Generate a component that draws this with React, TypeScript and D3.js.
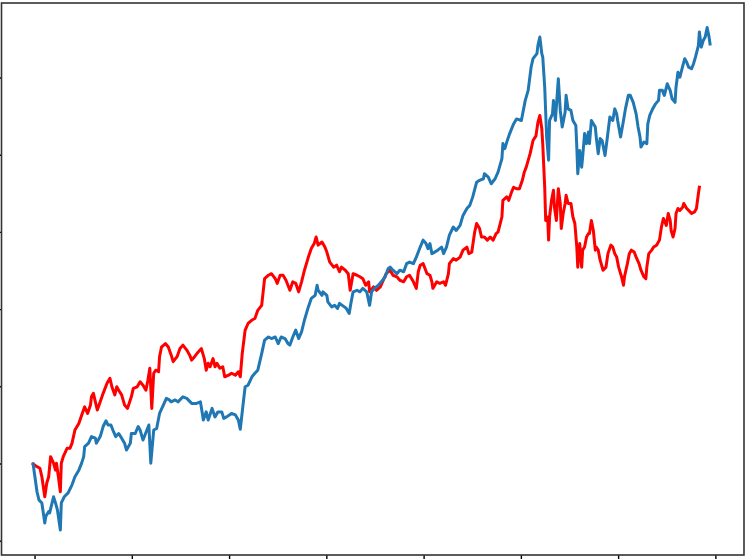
import React from "react";
import * as d3 from "d3";

// x: trading-day index, y: cumulative growth of 1 unit
const xTicks = [0, 100, 200, 300, 400, 500, 600, 700];
const yTicks = [0.8, 1.0, 1.2, 1.4, 1.6, 1.8, 2.0];

const blueSeries: [number, number][] = [
  [-2, 1.0], [2, 0.928], [4, 0.907], [7, 0.899], [10, 0.847], [11, 0.864], [14, 0.877], [15, 0.873],
  [19, 0.915], [21, 0.899], [23, 0.881], [26, 0.829], [27, 0.899], [30, 0.915], [34, 0.925], [38, 0.946],
  [41, 0.967], [45, 0.984], [48, 1.003], [50, 1.019], [51, 1.045], [55, 1.054], [58, 1.071], [62, 1.067],
  [63, 1.054], [67, 1.071], [70, 1.097], [73, 1.112], [75, 1.101], [78, 1.101], [80, 1.088], [83, 1.071],
  [86, 1.079], [88, 1.071], [92, 1.054], [94, 1.036], [98, 1.054], [99, 1.079], [103, 1.079], [106, 1.097],
  [108, 1.088], [111, 1.062], [115, 1.088], [117, 1.101], [119, 1.002], [122, 1.088], [125, 1.092], [128, 1.131],
  [132, 1.153], [135, 1.17], [138, 1.166], [140, 1.161], [144, 1.166], [147, 1.161], [152, 1.174], [156, 1.17],
  [161, 1.157], [166, 1.157], [170, 1.161], [172, 1.131], [173, 1.114], [176, 1.135], [178, 1.114], [182, 1.144],
  [185, 1.122], [188, 1.135], [192, 1.135], [194, 1.118], [197, 1.122], [202, 1.131], [206, 1.127], [209, 1.114],
  [211, 1.09], [214, 1.157], [216, 1.2], [219, 1.204], [223, 1.226], [226, 1.235], [229, 1.243], [233, 1.286],
  [236, 1.321], [240, 1.329], [243, 1.325], [247, 1.329], [250, 1.312], [253, 1.329], [257, 1.325], [260, 1.312],
  [262, 1.308], [265, 1.329], [268, 1.347], [271, 1.325], [274, 1.342], [277, 1.373], [281, 1.407], [284, 1.429],
  [288, 1.437], [290, 1.463], [291, 1.45], [295, 1.437], [296, 1.446], [300, 1.437], [301, 1.42], [305, 1.407],
  [308, 1.411], [311, 1.403], [313, 1.416], [318, 1.407], [320, 1.403], [323, 1.39], [325, 1.42], [327, 1.446],
  [331, 1.45], [334, 1.446], [337, 1.455], [341, 1.446], [344, 1.411], [346, 1.446], [349, 1.455], [353, 1.463],
  [356, 1.472], [360, 1.485], [363, 1.506], [365, 1.51], [368, 1.502], [372, 1.493], [375, 1.502], [379, 1.498],
  [382, 1.519], [385, 1.523], [389, 1.519], [392, 1.536], [396, 1.562], [399, 1.58], [402, 1.571], [404, 1.558],
  [406, 1.571], [408, 1.545], [411, 1.549], [414, 1.554], [418, 1.562], [420, 1.545], [423, 1.562], [426, 1.593],
  [430, 1.614], [433, 1.605], [437, 1.618], [440, 1.644], [444, 1.662], [447, 1.67], [450, 1.692], [454, 1.73],
  [457, 1.735], [461, 1.739], [462, 1.752], [466, 1.743], [469, 1.726], [473, 1.739], [476, 1.756], [480, 1.791],
  [481, 1.83], [483, 1.817], [485, 1.834], [488, 1.856], [492, 1.881], [495, 1.894], [500, 1.89], [504, 1.942],
  [507, 1.968], [510, 2.028], [512, 2.05], [516, 2.063], [517, 2.084], [519, 2.106], [521, 2.063], [522, 2.054],
  [524, 1.976], [526, 1.847], [528, 1.787], [529, 1.89], [532, 1.907], [533, 1.942], [535, 1.89], [538, 1.998],
  [540, 1.916], [542, 1.873], [545, 1.912], [546, 1.955], [548, 1.92], [551, 1.916], [553, 1.89], [556, 1.877],
  [557, 1.821], [558, 1.752], [560, 1.812], [562, 1.769], [563, 1.795], [565, 1.856], [567, 1.83], [569, 1.86],
  [570, 1.83], [572, 1.89], [576, 1.873], [577, 1.847], [579, 1.804], [581, 1.843], [583, 1.838], [586, 1.799],
  [588, 1.838], [591, 1.899], [594, 1.89], [596, 1.92], [598, 1.907], [599, 1.89], [602, 1.847], [605, 1.89],
  [607, 1.92], [610, 1.955], [612, 1.955], [615, 1.937], [618, 1.907], [620, 1.873], [622, 1.847], [623, 1.821],
  [626, 1.834], [629, 1.83], [630, 1.881], [632, 1.903], [635, 1.92], [638, 1.933], [641, 1.942], [642, 1.968],
  [645, 1.968], [647, 1.955], [650, 1.985], [653, 1.968], [655, 1.946], [658, 1.937], [659, 1.976], [661, 2.015],
  [663, 2.002], [666, 2.032], [668, 2.05], [670, 2.041], [672, 2.028], [675, 2.024], [677, 2.037], [679, 2.054],
  [682, 2.084], [683, 2.119], [685, 2.08], [687, 2.097], [689, 2.106], [691, 2.131], [693, 2.106], [694, 2.088],
];

const redSeries: [number, number][] = [
  [-2, 1.0], [2, 0.993], [5, 0.989], [7, 0.967], [10, 0.915], [12, 0.95], [14, 0.967], [16, 1.019],
  [19, 1.002], [21, 0.984], [22, 1.002], [24, 0.967], [26, 0.928], [27, 1.002], [29, 1.019], [33, 1.041],
  [36, 1.041], [38, 1.054], [41, 1.088], [45, 1.105], [48, 1.127], [51, 1.148], [54, 1.131], [57, 1.153],
  [58, 1.174], [60, 1.183], [62, 1.161], [64, 1.14], [67, 1.161], [70, 1.183], [74, 1.209], [77, 1.222],
  [79, 1.2], [82, 1.179], [84, 1.2], [86, 1.191], [89, 1.179], [92, 1.153], [95, 1.144], [99, 1.174],
  [101, 1.196], [105, 1.2], [108, 1.213], [111, 1.204], [114, 1.191], [116, 1.217], [118, 1.248], [120, 1.144],
  [122, 1.235], [124, 1.243], [127, 1.239], [128, 1.278], [130, 1.303], [134, 1.312], [137, 1.303], [140, 1.282],
  [142, 1.265], [146, 1.278], [149, 1.299], [152, 1.308], [156, 1.295], [159, 1.282], [161, 1.269], [164, 1.278],
  [168, 1.291], [171, 1.299], [174, 1.273], [176, 1.243], [178, 1.261], [180, 1.252], [183, 1.273], [185, 1.252],
  [187, 1.261], [190, 1.248], [193, 1.252], [195, 1.226], [199, 1.23], [202, 1.235], [206, 1.23], [209, 1.239],
  [211, 1.226], [213, 1.286], [216, 1.347], [219, 1.364], [223, 1.373], [226, 1.377], [229, 1.398], [233, 1.411],
  [236, 1.48], [240, 1.489], [243, 1.493], [247, 1.48], [249, 1.468], [252, 1.489], [255, 1.489], [258, 1.476],
  [260, 1.463], [262, 1.45], [265, 1.472], [268, 1.468], [271, 1.446], [274, 1.472], [277, 1.502], [281, 1.536],
  [284, 1.558], [287, 1.571], [289, 1.588], [291, 1.567], [295, 1.575], [298, 1.562], [300, 1.549], [303, 1.523],
  [307, 1.51], [310, 1.515], [313, 1.498], [315, 1.51], [319, 1.502], [322, 1.493], [324, 1.45], [327, 1.493],
  [331, 1.489], [334, 1.485], [337, 1.48], [340, 1.463], [343, 1.472], [344, 1.446], [348, 1.459], [351, 1.45],
  [355, 1.459], [361, 1.493], [365, 1.502], [368, 1.489], [372, 1.485], [375, 1.476], [379, 1.472], [382, 1.485],
  [385, 1.489], [389, 1.472], [392, 1.455], [394, 1.498], [396, 1.515], [399, 1.519], [403, 1.493], [406, 1.489],
  [408, 1.472], [409, 1.455], [413, 1.472], [416, 1.468], [420, 1.472], [422, 1.463], [425, 1.493], [426, 1.519],
  [430, 1.532], [433, 1.528], [437, 1.536], [440, 1.554], [444, 1.562], [446, 1.545], [449, 1.549], [452, 1.601],
  [454, 1.623], [457, 1.61], [459, 1.588], [462, 1.588], [465, 1.58], [468, 1.588], [471, 1.58], [474, 1.597],
  [476, 1.601], [480, 1.64], [481, 1.683], [485, 1.692], [487, 1.683], [490, 1.705], [492, 1.717], [495, 1.713],
  [498, 1.713], [501, 1.735], [503, 1.756], [505, 1.769], [509, 1.804], [512, 1.838], [515, 1.85], [517, 1.885],
  [519, 1.903], [521, 1.869], [522, 1.828], [524, 1.717], [525, 1.631], [527, 1.64], [528, 1.58], [529, 1.64],
  [531, 1.683], [533, 1.709], [534, 1.666], [536, 1.631], [538, 1.713], [540, 1.675], [541, 1.61], [543, 1.649],
  [545, 1.675], [546, 1.696], [548, 1.675], [551, 1.675], [553, 1.64], [555, 1.623], [557, 1.562], [558, 1.51],
  [560, 1.571], [562, 1.51], [563, 1.554], [565, 1.562], [567, 1.588], [569, 1.597], [570, 1.597], [572, 1.631],
  [574, 1.605], [576, 1.554], [577, 1.562], [579, 1.554], [581, 1.528], [584, 1.502], [587, 1.51], [589, 1.545],
  [592, 1.567], [594, 1.562], [596, 1.545], [598, 1.536], [600, 1.51], [603, 1.485], [605, 1.463], [606, 1.485],
  [609, 1.519], [611, 1.545], [613, 1.554], [616, 1.549], [618, 1.536], [621, 1.519], [623, 1.502], [626, 1.485],
  [628, 1.48], [629, 1.51], [631, 1.545], [634, 1.554], [636, 1.562], [639, 1.567], [642, 1.58], [644, 1.614],
  [646, 1.636], [647, 1.631], [649, 1.618], [651, 1.649], [653, 1.631], [654, 1.605], [656, 1.588], [658, 1.61],
  [659, 1.649], [661, 1.662], [663, 1.657], [666, 1.666], [667, 1.675], [670, 1.662], [672, 1.657], [675, 1.649],
  [678, 1.653], [680, 1.662], [682, 1.7], [683, 1.717],
];

const W = 747;
const H = 559;
const LEFT = 1.5;
const RIGHT = 744;
const TOP = 3;
const BOTTOM = 555;

export default function App() {
  const x = d3.scaleLinear().domain([-34.5, 728.9]).range([LEFT, RIGHT]);
  const y = d3.scaleLinear().domain([0.7642, 2.1943]).range([BOTTOM, TOP]);
  const line = d3
    .line<[number, number]>()
    .x((d) => x(d[0]))
    .y((d) => y(d[1]));

  return (
    <div style={{ position: "absolute", left: 0, top: 0, width: W, height: H, background: "#fff" }}>
      <svg width={W} height={H} style={{ display: "block" }}>
        <rect x={0} y={0} width={W} height={H} fill="#fff" />
        <defs>
          <clipPath id="plot">
            <rect x={LEFT} y={TOP} width={RIGHT - LEFT} height={BOTTOM - TOP} />
          </clipPath>
        </defs>
        <g clipPath="url(#plot)">
          <path d={line(redSeries) || ""} fill="none" stroke="#ff0000" strokeWidth={3} strokeLinejoin="round" strokeLinecap="square" />
          <path d={line(blueSeries) || ""} fill="none" stroke="#1f77b4" strokeWidth={3} strokeLinejoin="round" strokeLinecap="square" />
        </g>
        {xTicks.map((t) => (
          <line key={"xt" + t} x1={x(t)} x2={x(t)} y1={BOTTOM} y2={BOTTOM + 7} stroke="#000" strokeWidth={1.4} />
        ))}
        {yTicks.map((t) => (
          <line key={"yt" + t} x1={LEFT - 7} x2={LEFT} y1={y(t)} y2={y(t)} stroke="#000" strokeWidth={1.4} />
        ))}
        <rect
          x={LEFT}
          y={TOP}
          width={RIGHT - LEFT}
          height={BOTTOM - TOP}
          fill="none"
          stroke="#333"
          strokeWidth={1.6}
        />
      </svg>
    </div>
  );
}
